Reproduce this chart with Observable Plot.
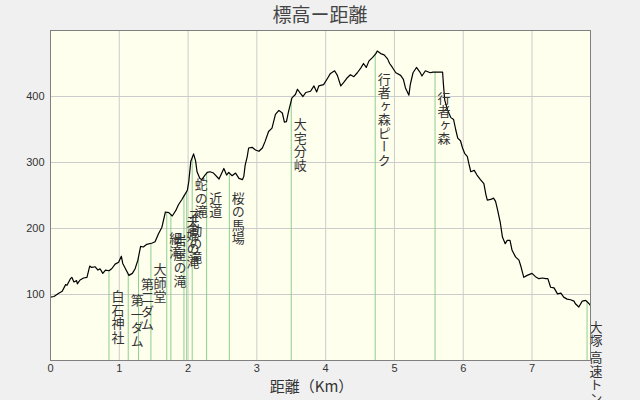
<!DOCTYPE html>
<html><head><meta charset="utf-8">
<script src="https://cdn.jsdelivr.net/npm/d3@7"></script>
<script src="https://cdn.jsdelivr.net/npm/@observablehq/plot@0.6"></script>
<style>
body{margin:0;background:#f0f0f0;width:640px;height:400px;overflow:hidden;font-family:"Noto Sans CJK JP",sans-serif;}
#title{height:29px;line-height:27px;text-align:center;font-size:19px;color:#444;}
</style></head><body>
<div id="title">標高ー距離</div>
<div id="chart"></div>
<script>
// profile: distance (km) and elevation (m)
const distKm = [0.00,0.05,0.12,0.17,0.22,0.24,0.29,0.31,0.34,0.38,0.39,0.43,0.48,0.53,0.57,0.60,0.65,0.69,0.72,0.76,0.80,0.85,0.89,0.94,0.99,1.03,1.05,1.09,1.14,1.19,1.23,1.27,1.31,1.35,1.40,1.48,1.52,1.57,1.62,1.67,1.72,1.77,1.82,1.86,1.91,1.95,1.99,2.01,2.04,2.08,2.11,2.13,2.17,2.20,2.24,2.28,2.32,2.37,2.45,2.49,2.52,2.56,2.59,2.64,2.69,2.74,2.79,2.81,2.83,2.86,2.88,2.93,2.98,3.03,3.08,3.12,3.17,3.22,3.27,3.32,3.37,3.40,3.43,3.46,3.51,3.56,3.59,3.63,3.67,3.71,3.78,3.83,3.87,3.90,3.97,4.03,4.07,4.13,4.17,4.22,4.26,4.31,4.36,4.41,4.46,4.51,4.55,4.59,4.63,4.68,4.73,4.75,4.80,4.85,4.90,4.93,4.97,5.02,5.09,5.13,5.16,5.21,5.23,5.27,5.32,5.37,5.40,5.45,5.52,5.56,5.60,5.67,5.70,5.71,5.73,5.77,5.82,5.86,5.89,5.92,5.96,5.99,6.02,6.06,6.08,6.11,6.16,6.20,6.25,6.30,6.33,6.35,6.40,6.44,6.47,6.50,6.54,6.57,6.61,6.64,6.68,6.71,6.76,6.81,6.84,6.88,6.93,7.00,7.05,7.10,7.15,7.20,7.23,7.27,7.32,7.37,7.42,7.46,7.51,7.56,7.61,7.63,7.68,7.73,7.78,7.83,7.85];
const elevM = [96,97,102,105,115,114,124,126,119,121,116,122,125,126,143,141,142,137,139,132,137,136,139,146,149,158,147,139,129,132,139,152,173,172,176,178,180,192,202,225,224,219,227,236,244,251,258,271,302,313,302,286,276,274,280,285,286,284,275,284,291,281,285,280,284,276,274,279,296,309,322,323,319,317,322,332,347,352,373,379,375,361,362,377,398,403,411,405,400,406,408,416,407,416,418,428,435,439,432,416,421,428,433,430,436,443,450,444,454,459,465,469,465,463,457,450,444,436,432,426,413,402,418,436,444,437,431,439,436,437,437,437,437,421,395,380,368,365,350,337,333,322,314,309,299,286,288,281,274,268,251,243,244,246,241,228,208,187,177,182,182,167,157,152,142,126,129,132,127,124,125,124,124,111,110,101,102,96,93,92,90,86,81,90,91,86,83];

// landmarks
const landmarkNames = ["白石神社","第一ダム","第二ダム","大師堂","細滝","岩屋の滝","夫婦の滝","不動の滝","蛇の滝","近道","桜の馬場","大宅分岐","行者ヶ森ピーク","行者ヶ森","大塚 高速トンネル"];
const landmarkKm = [0.85,1.13,1.28,1.46,1.69,1.75,1.94,1.98,2.06,2.27,2.60,3.50,4.72,5.59,7.80];
const landmarkElev = [136,130,155,177,224,221,250,257,306,285,285,397,466,437,90];

const xTicks = [0,1,2,3,4,5,6,7];
const yTicks = [100,200,300,400];
const xLabel = "距離（Km）";

const profile = distKm.map((d,i)=>({km:d, elev:elevM[i]}));
const landmarks = landmarkNames.map((n,i)=>({name:n, km:landmarkKm[i], elev:landmarkElev[i]}));

const font = '"Noto Sans CJK JP", sans-serif';
const plot = Plot.plot({
  width:640, height:371,
  marginTop:1, marginBottom:40, marginLeft:50, marginRight:50,
  style:{background:"transparent", fontFamily:font, fontSize:"12px", color:"#333", overflow:"visible"},
  x:{domain:[0,7.85]},
  y:{domain:[0,500]},
  marks:[
    Plot.frame({fill:"#ffffee"}),
    Plot.gridX({ticks:xTicks.slice(1), stroke:"#cccccc", strokeOpacity:1}),
    Plot.gridY({ticks:yTicks, stroke:"#cccccc", strokeOpacity:1}),
    Plot.ruleX(landmarks,{x:"km", y1:0, y2:"elev", stroke:"#8ccf8c", strokeWidth:1}),
    Plot.line(profile,{x:"km", y:"elev", stroke:"#000", strokeWidth:1.2}),
    Plot.text(landmarks,{x:"km", y:"elev", text:"name", dx:9, dy:15, textAnchor:"start", fontSize:13, fill:"#333"}),
    Plot.axisX({ticks:xTicks, tickSize:0, tickPadding:4, label:null, fontSize:11, fill:"#333", fontFamily:"Liberation Sans"}),
    Plot.axisY({ticks:yTicks, tickSize:0, tickPadding:6, label:null, fontSize:11, fill:"#333", fontFamily:"Liberation Sans"}),
    Plot.text([xLabel],{frameAnchor:"bottom", lineAnchor:"middle", dy:27, dx:-9, fontSize:15, fill:"#333"}),
    Plot.frame({stroke:"#808080"})
  ]
});
document.getElementById("chart").appendChild(plot);
const nameSet = new Set(landmarkNames);
plot.querySelectorAll("text").forEach(t=>{
  if (nameSet.has(t.textContent)) {
    t.removeAttribute("dy");
    t.style.writingMode = "vertical-rl";
    t.style.letterSpacing = "0.5px";
  }
});
</script>
</body></html>
